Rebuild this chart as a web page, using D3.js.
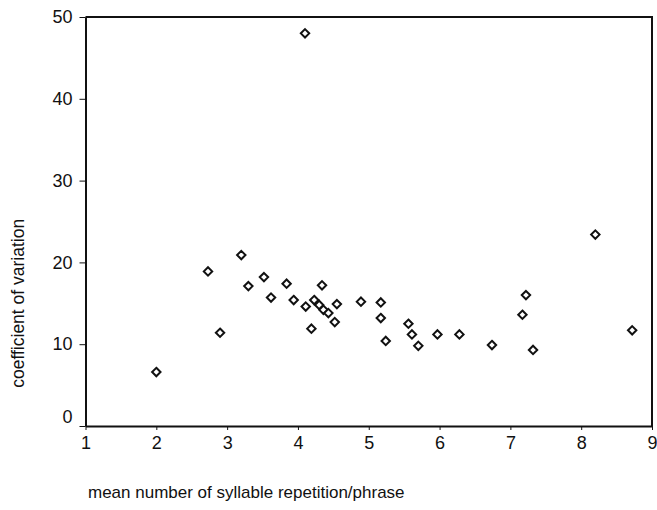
<!DOCTYPE html>
<html>
<head>
<meta charset="utf-8">
<script src="https://d3js.org/d3.v7.min.js"></script>
<style>
  body { margin: 0; background: #fff; }
  text { font-family: "Liberation Sans", Arial, sans-serif; fill: #111; }
  .axis path, .axis line { stroke: #111; }
</style>
</head>
<body>
<svg width="657" height="510"></svg>
<script>
// mean number of syllable repetition/phrase
var repetition = [2.00, 2.73, 2.90, 3.20, 3.30, 3.52, 3.62, 3.84, 3.94, 4.10,
                  4.11, 4.23, 4.30, 4.36, 4.43, 4.55, 4.52, 4.19, 4.34, 4.89,
                  5.17, 5.17, 5.24, 5.56, 5.61, 5.70, 5.97, 6.28, 6.74, 7.22,
                  7.17, 7.32, 8.20, 8.72];
// coefficient of variation
var variation = [6.6, 18.9, 11.4, 20.9, 17.1, 18.2, 15.7, 17.4, 15.4, 48.0,
                 14.6, 15.4, 14.8, 14.2, 13.8, 14.9, 12.7, 11.9, 17.2, 15.2,
                 15.1, 13.2, 10.4, 12.5, 11.2, 9.8, 11.2, 11.2, 9.9, 16.0,
                 13.6, 9.3, 23.4, 11.7];

var xTicks = [1, 2, 3, 4, 5, 6, 7, 8, 9];
var yTicks = [0, 10, 20, 30, 40, 50];

var svg = d3.select("svg"),
    margin = {top: 17, right: 5, bottom: 84, left: 85.5},
    width = +svg.attr("width") - margin.left - margin.right,
    height = +svg.attr("height") - margin.top - margin.bottom;

var x = d3.scaleLinear().domain([1, 9]).range([0, width]);
var y = d3.scaleLinear().domain([0, 50]).range([height, 0]);

var g = svg.append("g")
    .attr("transform", "translate(" + margin.left + "," + margin.top + ")");

// frame top + right
g.append("path")
    .attr("d", "M0,0H" + width + "V" + height)
    .attr("fill", "none")
    .attr("stroke", "#111")
    .attr("stroke-width", 2);

var xAxis = g.append("g")
    .attr("class", "axis")
    .attr("transform", "translate(0," + height + ")")
    .call(d3.axisBottom(x).tickValues(xTicks).tickSize(4).tickSizeOuter(0).tickFormat(d3.format("d")));

var yAxis = g.append("g")
    .attr("class", "axis")
    .call(d3.axisLeft(y).tickValues(yTicks).tickSize(6).tickSizeOuter(0).tickFormat(d3.format("d")));

xAxis.select(".domain").attr("stroke-width", 2);
yAxis.select(".domain").attr("stroke-width", 2);
xAxis.selectAll("text").attr("font-size", 18).attr("y", 10).attr("dy", "0.71em");
yAxis.selectAll("text").attr("font-size", 18).attr("x", -13);
yAxis.selectAll(".tick").filter(function(d) { return d === 0; })
    .select("text").attr("dy", "-0.2em");

var points = repetition.map(function(d, i) { return {x: d, y: variation[i]}; });

g.append("g")
    .selectAll("path")
    .data(points)
    .enter().append("path")
      .attr("transform", function(d) { return "translate(" + x(d.x) + "," + y(d.y) + ")"; })
      .attr("d", "M0,-4.2L4.2,0L0,4.2L-4.2,0Z")
      .attr("fill", "#fff")
      .attr("stroke", "#111")
      .attr("stroke-width", 2);

svg.append("text")
    .attr("transform", "translate(24," + (margin.top + height * 0.7) + ") rotate(-90)")
    .attr("text-anchor", "middle")
    .attr("font-size", 17.5)
    .text("coefficient of variation");

svg.append("text")
    .attr("x", 88)
    .attr("y", 498)
    .attr("font-size", 17)
    .text("mean number of syllable repetition/phrase");
</script>
</body>
</html>
